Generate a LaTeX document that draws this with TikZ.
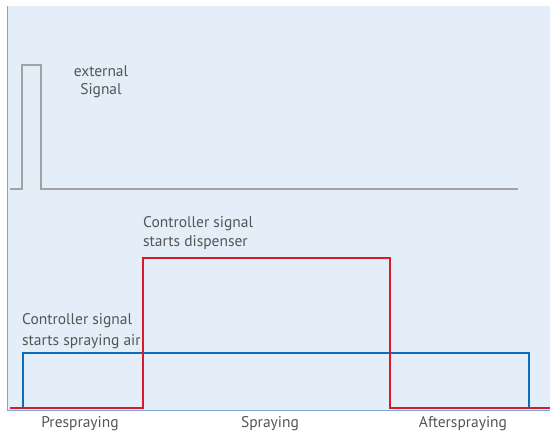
\documentclass[tikz,border=0pt]{standalone}
\usepackage{fontspec}
\setmainfont{PT Sans}
\definecolor{panelblue}{HTML}{E3EEF9}
\definecolor{edgeblue}{HTML}{7FA6D8}
\definecolor{textgrey}{HTML}{555555}
\definecolor{extgrey}{HTML}{A2A2A2}
\definecolor{disred}{HTML}{D71A2C}
\definecolor{airblue}{HTML}{0B6DBB}
\tikzstyle{every node}=[text=textgrey, inner sep=0pt, font=\fontsize{15.5}{18}\selectfont]
\tikzstyle{trace}=[line width=2.8pt]

\begin{document}
\begin{tikzpicture}[x=1pt, y=-1pt]
\useasboundingbox (0,0) rectangle (550,434);
% Panel
    \fill[panelblue] (7,6) rectangle (550,410);
    \draw[edgeblue, line width=1pt] (7,6) -- (7,410) -- (550,410);
% External signal
    \draw[trace, extgrey] (10,189) -- (22,189) -- (22,65) -- (41,65) -- (41,189) -- (518,189);
    \node[anchor=base] (extA) at (101,76) {external};
    \node[anchor=base] (extB) at (101,94) {Signal};
% Spraying air
    \draw[trace, airblue] (23,408) -- (23,353) -- (529,353) -- (529,408);
% Dispenser
    \draw[trace, disred] (10,408) -- (143,408) -- (143,258) -- (390,258) -- (390,408) -- (550,408);
% Labels
    \node[anchor=base west] (dispA) at (143,227) {Controller signal};
    \node[anchor=base west] (dispB) at (143,246) {starts dispenser};
    \node[anchor=base west] (airA) at (22,324) {Controller signal};
    \node[anchor=base west] (airB) at (22,345) {starts spraying air};
% Phases
    \node[anchor=base] (pre) at (80,427) {Prespraying};
    \node[anchor=base] (spray) at (270,427) {Spraying};
    \node[anchor=base] (after) at (463,427) {Afterspraying};
\end{tikzpicture}
\end{document}
